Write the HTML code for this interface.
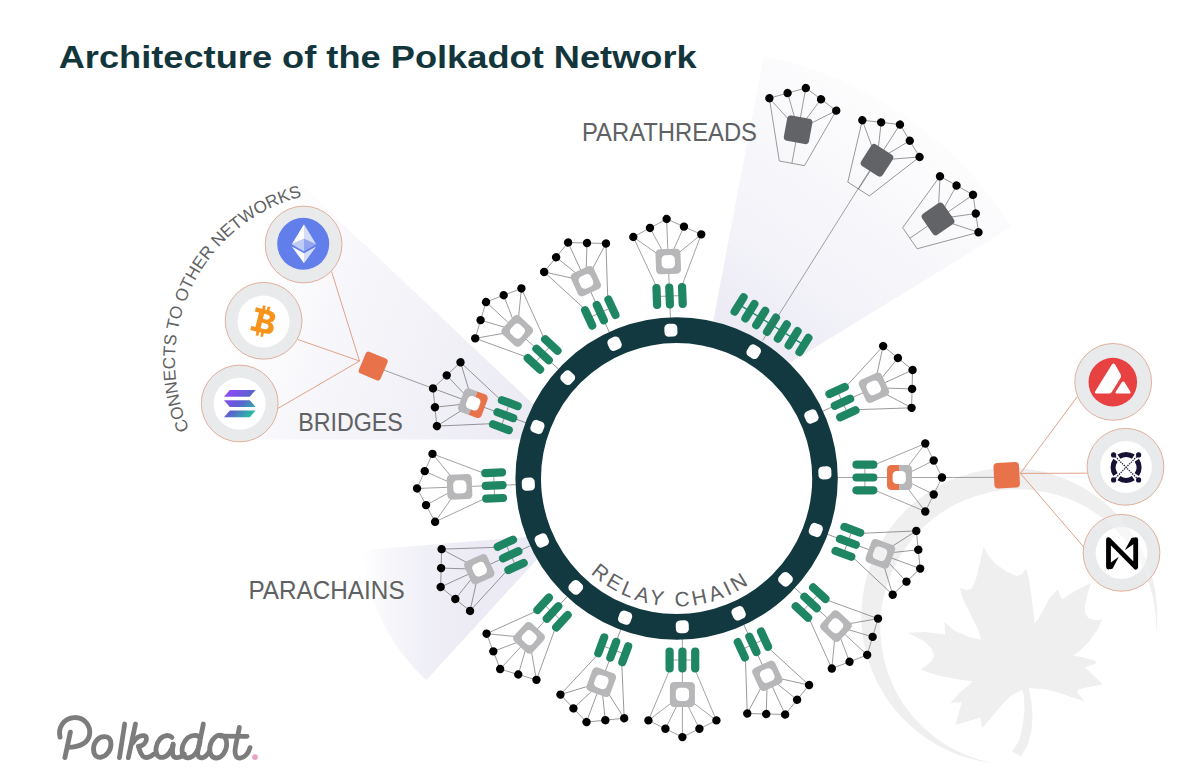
<!DOCTYPE html>
<html lang="en"><head><meta charset="utf-8"><title>Architecture of the Polkadot Network</title>
<style>html,body{margin:0;padding:0;background:#fff}body{width:1200px;height:778px;overflow:hidden;font-family:"Liberation Sans",sans-serif}svg{display:block}text{font-family:"Liberation Sans",sans-serif}</style>
</head><body>
<svg width="1200" height="778" viewBox="0 0 1200 778">
<defs>
<linearGradient id="gB1" gradientUnits="userSpaceOnUse" x1="756.5" y1="331.2" x2="905.5" y2="115.7"><stop offset="0" stop-color="#edecf5"/><stop offset="0.3" stop-color="#f3f3f9"/><stop offset="0.78" stop-color="#fafafc"/><stop offset="1" stop-color="#fdfdfe"/></linearGradient>
<linearGradient id="gB2" gradientUnits="userSpaceOnUse" x1="529.3" y1="424" x2="238" y2="318"><stop offset="0" stop-color="#ecebf4"/><stop offset="0.39" stop-color="#f1f1f7"/><stop offset="0.71" stop-color="#f7f7fb"/><stop offset="1" stop-color="#ffffff"/></linearGradient>
<linearGradient id="gB3" gradientUnits="userSpaceOnUse" x1="480" y1="600" x2="362" y2="600"><stop offset="0" stop-color="#eceaf4"/><stop offset="0.5" stop-color="#f0f0f7"/><stop offset="0.8" stop-color="#f8f8fb"/><stop offset="1" stop-color="#ffffff"/></linearGradient>
<linearGradient id="gSol" gradientUnits="userSpaceOnUse" x1="226" y1="390" x2="254" y2="418"><stop offset="0" stop-color="#9945ff"/><stop offset="0.5" stop-color="#5a62cf"/><stop offset="1" stop-color="#19d694"/></linearGradient>
<path id="tpRelay" d="M590.6,573.3 A128,128 0 0 0 760.5,575.2" fill="none"/>
<path id="tpConnects" d="M189.3,429.3 A170,170 0 0 1 309.7,194.7" fill="none"/>
<g id="wmShape"><path d="M983.5,546.7 L988.6,555.9 L995.2,563.4 L1006.9,571.7 L1017,575.9 L1022,574.3 L1026.1,568.4 L1028.4,575.9 L1030.4,588.5 L1032.6,605.2 L1034.6,623.5 L1038.4,618.5 L1043.8,609.3 L1050.1,597.6 L1058.1,589.3 L1059.8,595.1 L1062.2,599.3 L1073.5,592.1 L1083.5,586.4 L1091.1,583.1 L1088.2,591.8 L1084.9,605.2 L1085.2,613.5 L1088.6,618.2 L1095.2,620.2 L1102.3,619.2 L1097.7,629.4 L1088.6,641.9 L1078.5,651.9 L1073.2,655.6 L1084,657.6 L1095.5,660.7 L1095.9,663.4 L1085,667.2 L1093.6,675.5 L1102.8,684.5 L1088.8,687 L1078.3,689.5 L1077.3,692.7 L1084.4,701 L1072.5,697.5 L1059.1,692.7 L1043.8,688.9 L1028.8,687.9 L1031.3,701.3 L1032.6,716.7 L1031.3,732 L1027.5,745.4 L1021.1,756.5 L1011.8,751.6 L1018.8,741.6 L1022.7,726.3 L1024.6,709 L1023.6,693.7 L1021.7,690.2 L1011.2,695.6 L1001.6,705.2 L992,716.7 L982,728.6 L980.5,717.6 L967.1,721.5 L955.6,724.7 L958.5,713.8 L961.7,702.3 L950.4,702.9 L959.4,692.7 L969,685 L972.5,681.2 L957.5,679.3 L938.3,675.5 L920.7,669.7 L930.7,662 L934.1,656.3 L931.6,648.6 L924,641 L907.5,632.7 L925.1,631.9 L945.1,634.4 L944.8,627.7 L944.3,621.9 L955.1,631.1 L970.2,637.2 L981,639.7 L978.5,630.2 L970.2,613.5 L962.7,598.5 L959.8,588 L966.8,590.1 L971.5,588.8 L976,578.4 L980.2,561.7 Z"/>
<path d="M993,763 A148,148 0 1 1 1156,636 A138,138 0 1 0 993,763 Z"/></g>
</defs>
<g id="beams">
<path d="M694,421.7 L763.71,56.29 A372,372 0 0 1 1011.18,227.33 Z" fill="url(#gB1)"/>
<path d="M570.5,439.4 L194.5,439.4 A376,376 0 0 1 297.31,181.06 Z" fill="url(#gB2)"/>
<path d="M560,534.3 L426.23,680.28 A198,198 0 0 1 362.64,550.18 Z" fill="url(#gB3)"/>
</g>
<use href="#wmShape" fill="#efefef"/>
<g id="unit-lines" fill="none" stroke="#585858" stroke-width="0.55">
<g transform="translate(668.26,261.46) rotate(-2.2)"><polyline points="-34,-25.8 -17,-34.2 0,-42.5 17,-34.2 34,-25.8"/><line x1="-34" y1="-25.8" x2="0" y2="0"/><line x1="-17" y1="-34.2" x2="0" y2="0"/><line x1="0" y1="-42.5" x2="0" y2="0"/><line x1="17" y1="-34.2" x2="0" y2="0"/><line x1="34" y1="-25.8" x2="0" y2="0"/><line x1="-34" y1="-25.8" x2="-12.8" y2="24.6"/><line x1="34" y1="-25.8" x2="12.8" y2="24.6"/><line x1="0" y1="0" x2="0" y2="60"/><line x1="-12.8" y1="34.6" x2="12.8" y2="34.6"/></g>
<g transform="translate(585.84,281.17) rotate(-24.7)"><polyline points="-34,-25.8 -17,-34.2 0,-42.5 17,-34.2 34,-25.8"/><line x1="-34" y1="-25.8" x2="0" y2="0"/><line x1="-17" y1="-34.2" x2="0" y2="0"/><line x1="0" y1="-42.5" x2="0" y2="0"/><line x1="17" y1="-34.2" x2="0" y2="0"/><line x1="34" y1="-25.8" x2="0" y2="0"/><line x1="-34" y1="-25.8" x2="-12.8" y2="24.6"/><line x1="34" y1="-25.8" x2="12.8" y2="24.6"/><line x1="0" y1="0" x2="0" y2="60"/><line x1="-12.8" y1="34.6" x2="12.8" y2="34.6"/></g>
<g transform="translate(517.23,330.93) rotate(-47.2)"><polyline points="-34,-25.8 -17,-34.2 0,-42.5 17,-34.2 34,-25.8"/><line x1="-34" y1="-25.8" x2="0" y2="0"/><line x1="-17" y1="-34.2" x2="0" y2="0"/><line x1="0" y1="-42.5" x2="0" y2="0"/><line x1="17" y1="-34.2" x2="0" y2="0"/><line x1="34" y1="-25.8" x2="0" y2="0"/><line x1="-34" y1="-25.8" x2="-12.8" y2="24.6"/><line x1="34" y1="-25.8" x2="12.8" y2="24.6"/><line x1="0" y1="0" x2="0" y2="60"/><line x1="-12.8" y1="34.6" x2="12.8" y2="34.6"/></g>
<g transform="translate(472.89,403.15) rotate(-69.7)"><polyline points="-34,-25.8 -17,-34.2 0,-42.5 17,-34.2 34,-25.8"/><line x1="-34" y1="-25.8" x2="0" y2="0"/><line x1="-17" y1="-34.2" x2="0" y2="0"/><line x1="0" y1="-42.5" x2="0" y2="0"/><line x1="17" y1="-34.2" x2="0" y2="0"/><line x1="34" y1="-25.8" x2="0" y2="0"/><line x1="-34" y1="-25.8" x2="-12.8" y2="24.6"/><line x1="34" y1="-25.8" x2="12.8" y2="24.6"/><line x1="0" y1="0" x2="0" y2="60"/><line x1="-12.8" y1="34.6" x2="12.8" y2="34.6"/></g>
<g transform="translate(459.56,486.84) rotate(-92.2)"><polyline points="-34,-25.8 -17,-34.2 0,-42.5 17,-34.2 34,-25.8"/><line x1="-34" y1="-25.8" x2="0" y2="0"/><line x1="-17" y1="-34.2" x2="0" y2="0"/><line x1="0" y1="-42.5" x2="0" y2="0"/><line x1="17" y1="-34.2" x2="0" y2="0"/><line x1="34" y1="-25.8" x2="0" y2="0"/><line x1="-34" y1="-25.8" x2="-12.8" y2="24.6"/><line x1="34" y1="-25.8" x2="12.8" y2="24.6"/><line x1="0" y1="0" x2="0" y2="60"/><line x1="-12.8" y1="34.6" x2="12.8" y2="34.6"/></g>
<g transform="translate(479.27,569.26) rotate(-114.7)"><polyline points="-34,-25.8 -17,-34.2 0,-42.5 17,-34.2 34,-25.8"/><line x1="-34" y1="-25.8" x2="0" y2="0"/><line x1="-17" y1="-34.2" x2="0" y2="0"/><line x1="0" y1="-42.5" x2="0" y2="0"/><line x1="17" y1="-34.2" x2="0" y2="0"/><line x1="34" y1="-25.8" x2="0" y2="0"/><line x1="-34" y1="-25.8" x2="-12.8" y2="24.6"/><line x1="34" y1="-25.8" x2="12.8" y2="24.6"/><line x1="0" y1="0" x2="0" y2="60"/><line x1="-12.8" y1="34.6" x2="12.8" y2="34.6"/></g>
<g transform="translate(529.03,637.87) rotate(-137.2)"><polyline points="-34,-25.8 -17,-34.2 0,-42.5 17,-34.2 34,-25.8"/><line x1="-34" y1="-25.8" x2="0" y2="0"/><line x1="-17" y1="-34.2" x2="0" y2="0"/><line x1="0" y1="-42.5" x2="0" y2="0"/><line x1="17" y1="-34.2" x2="0" y2="0"/><line x1="34" y1="-25.8" x2="0" y2="0"/><line x1="-34" y1="-25.8" x2="-12.8" y2="24.6"/><line x1="34" y1="-25.8" x2="12.8" y2="24.6"/><line x1="0" y1="0" x2="0" y2="60"/><line x1="-12.8" y1="34.6" x2="12.8" y2="34.6"/></g>
<g transform="translate(601.25,682.21) rotate(-159.7)"><polyline points="-34,-25.8 -17,-34.2 0,-42.5 17,-34.2 34,-25.8"/><line x1="-34" y1="-25.8" x2="0" y2="0"/><line x1="-17" y1="-34.2" x2="0" y2="0"/><line x1="0" y1="-42.5" x2="0" y2="0"/><line x1="17" y1="-34.2" x2="0" y2="0"/><line x1="34" y1="-25.8" x2="0" y2="0"/><line x1="-34" y1="-25.8" x2="-12.8" y2="24.6"/><line x1="34" y1="-25.8" x2="12.8" y2="24.6"/><line x1="0" y1="0" x2="0" y2="60"/><line x1="-12.8" y1="34.6" x2="12.8" y2="34.6"/></g>
<g transform="translate(682.4,694.6) rotate(180)"><polyline points="-34,-25.8 -17,-34.2 0,-42.5 17,-34.2 34,-25.8"/><line x1="-34" y1="-25.8" x2="0" y2="0"/><line x1="-17" y1="-34.2" x2="0" y2="0"/><line x1="0" y1="-42.5" x2="0" y2="0"/><line x1="17" y1="-34.2" x2="0" y2="0"/><line x1="34" y1="-25.8" x2="0" y2="0"/><line x1="-34" y1="-25.8" x2="-12.8" y2="24.6"/><line x1="34" y1="-25.8" x2="12.8" y2="24.6"/><line x1="0" y1="0" x2="0" y2="60"/><line x1="-12.8" y1="34.6" x2="12.8" y2="34.6"/></g>
<g transform="translate(767.36,675.83) rotate(-204.7)"><polyline points="-34,-25.8 -17,-34.2 0,-42.5 17,-34.2 34,-25.8"/><line x1="-34" y1="-25.8" x2="0" y2="0"/><line x1="-17" y1="-34.2" x2="0" y2="0"/><line x1="0" y1="-42.5" x2="0" y2="0"/><line x1="17" y1="-34.2" x2="0" y2="0"/><line x1="34" y1="-25.8" x2="0" y2="0"/><line x1="-34" y1="-25.8" x2="-12.8" y2="24.6"/><line x1="34" y1="-25.8" x2="12.8" y2="24.6"/><line x1="0" y1="0" x2="0" y2="60"/><line x1="-12.8" y1="34.6" x2="12.8" y2="34.6"/></g>
<g transform="translate(835.97,626.07) rotate(-227.2)"><polyline points="-34,-25.8 -17,-34.2 0,-42.5 17,-34.2 34,-25.8"/><line x1="-34" y1="-25.8" x2="0" y2="0"/><line x1="-17" y1="-34.2" x2="0" y2="0"/><line x1="0" y1="-42.5" x2="0" y2="0"/><line x1="17" y1="-34.2" x2="0" y2="0"/><line x1="34" y1="-25.8" x2="0" y2="0"/><line x1="-34" y1="-25.8" x2="-12.8" y2="24.6"/><line x1="34" y1="-25.8" x2="12.8" y2="24.6"/><line x1="0" y1="0" x2="0" y2="60"/><line x1="-12.8" y1="34.6" x2="12.8" y2="34.6"/></g>
<g transform="translate(880.31,553.85) rotate(-249.7)"><polyline points="-34,-25.8 -17,-34.2 0,-42.5 17,-34.2 34,-25.8"/><line x1="-34" y1="-25.8" x2="0" y2="0"/><line x1="-17" y1="-34.2" x2="0" y2="0"/><line x1="0" y1="-42.5" x2="0" y2="0"/><line x1="17" y1="-34.2" x2="0" y2="0"/><line x1="34" y1="-25.8" x2="0" y2="0"/><line x1="-34" y1="-25.8" x2="-12.8" y2="24.6"/><line x1="34" y1="-25.8" x2="12.8" y2="24.6"/><line x1="0" y1="0" x2="0" y2="60"/><line x1="-12.8" y1="34.6" x2="12.8" y2="34.6"/></g>
<g transform="translate(899.5,477.5) rotate(90)"><polyline points="-34,-25.8 -17,-34.2 0,-42.5 17,-34.2 34,-25.8"/><line x1="-34" y1="-25.8" x2="0" y2="0"/><line x1="-17" y1="-34.2" x2="0" y2="0"/><line x1="0" y1="-42.5" x2="0" y2="0"/><line x1="17" y1="-34.2" x2="0" y2="0"/><line x1="34" y1="-25.8" x2="0" y2="0"/><line x1="-34" y1="-25.8" x2="-12.8" y2="24.6"/><line x1="34" y1="-25.8" x2="12.8" y2="24.6"/><line x1="0" y1="0" x2="0" y2="66"/><line x1="-12.8" y1="34.6" x2="12.8" y2="34.6"/></g>
<g transform="translate(873.93,387.74) rotate(-294.7)"><polyline points="-34,-25.8 -17,-34.2 0,-42.5 17,-34.2 34,-25.8"/><line x1="-34" y1="-25.8" x2="0" y2="0"/><line x1="-17" y1="-34.2" x2="0" y2="0"/><line x1="0" y1="-42.5" x2="0" y2="0"/><line x1="17" y1="-34.2" x2="0" y2="0"/><line x1="34" y1="-25.8" x2="0" y2="0"/><line x1="-34" y1="-25.8" x2="-12.8" y2="24.6"/><line x1="34" y1="-25.8" x2="12.8" y2="24.6"/><line x1="0" y1="0" x2="0" y2="60"/><line x1="-12.8" y1="34.6" x2="12.8" y2="34.6"/></g>
<g transform="translate(798.1,129.8) rotate(10.5)"><polyline points="-34,-25.8 -17,-34.2 0,-42.5 17,-34.2 34,-25.8"/><line x1="-34" y1="-25.8" x2="0" y2="0"/><line x1="-17" y1="-34.2" x2="0" y2="0"/><line x1="0" y1="-42.5" x2="0" y2="0"/><line x1="17" y1="-34.2" x2="0" y2="0"/><line x1="34" y1="-25.8" x2="0" y2="0"/><polyline points="-34,-25.8 -12.8,34.1 12.8,34.1 34,-25.8"/><line x1="0" y1="0" x2="0" y2="34.1"/></g>
<g transform="translate(877,160.3) rotate(32.7)"><polyline points="-34,-25.8 -17,-34.2 0,-42.5 17,-34.2 34,-25.8"/><line x1="-34" y1="-25.8" x2="0" y2="0"/><line x1="-17" y1="-34.2" x2="0" y2="0"/><line x1="0" y1="-42.5" x2="0" y2="0"/><line x1="17" y1="-34.2" x2="0" y2="0"/><line x1="34" y1="-25.8" x2="0" y2="0"/><polyline points="-34,-25.8 -12.8,34.1 12.8,34.1 34,-25.8"/><line x1="0" y1="0" x2="0" y2="34.1"/></g>
<g transform="translate(938,218.9) rotate(55.5)"><polyline points="-34,-25.8 -17,-34.2 0,-42.5 17,-34.2 34,-25.8"/><line x1="-34" y1="-25.8" x2="0" y2="0"/><line x1="-17" y1="-34.2" x2="0" y2="0"/><line x1="0" y1="-42.5" x2="0" y2="0"/><line x1="17" y1="-34.2" x2="0" y2="0"/><line x1="34" y1="-25.8" x2="0" y2="0"/><polyline points="-34,-25.8 -12.8,34.1 12.8,34.1 34,-25.8"/><line x1="0" y1="0" x2="0" y2="34.1"/></g>
<line x1="433" y1="388.4" x2="373.2" y2="366.1"/>
<line x1="942" y1="477.5" x2="1006" y2="477.3"/>
</g>
<circle cx="676.6" cy="478.5" r="148.4" fill="#fff" stroke="#12393f" stroke-width="25.6"/>
<g fill="#fff">
<rect x="-6.5" y="-6.5" width="13" height="13" rx="4.3" transform="translate(676.6,478.5) rotate(-2.2) translate(0,-148.4)"/>
<rect x="-6.5" y="-6.5" width="13" height="13" rx="4.3" transform="translate(676.6,478.5) rotate(-24.7) translate(0,-148.4)"/>
<rect x="-6.5" y="-6.5" width="13" height="13" rx="4.3" transform="translate(676.6,478.5) rotate(-47.2) translate(0,-148.4)"/>
<rect x="-6.5" y="-6.5" width="13" height="13" rx="4.3" transform="translate(676.6,478.5) rotate(-69.7) translate(0,-148.4)"/>
<rect x="-6.5" y="-6.5" width="13" height="13" rx="4.3" transform="translate(676.6,478.5) rotate(-92.2) translate(0,-148.4)"/>
<rect x="-6.5" y="-6.5" width="13" height="13" rx="4.3" transform="translate(676.6,478.5) rotate(-114.7) translate(0,-148.4)"/>
<rect x="-6.5" y="-6.5" width="13" height="13" rx="4.3" transform="translate(676.6,478.5) rotate(-137.2) translate(0,-148.4)"/>
<rect x="-6.5" y="-6.5" width="13" height="13" rx="4.3" transform="translate(676.6,478.5) rotate(-159.7) translate(0,-148.4)"/>
<rect x="-6.5" y="-6.5" width="13" height="13" rx="4.3" transform="translate(676.6,478.5) rotate(-182.2) translate(0,-148.4)"/>
<rect x="-6.5" y="-6.5" width="13" height="13" rx="4.3" transform="translate(676.6,478.5) rotate(-204.7) translate(0,-148.4)"/>
<rect x="-6.5" y="-6.5" width="13" height="13" rx="4.3" transform="translate(676.6,478.5) rotate(-227.2) translate(0,-148.4)"/>
<rect x="-6.5" y="-6.5" width="13" height="13" rx="4.3" transform="translate(676.6,478.5) rotate(-249.7) translate(0,-148.4)"/>
<rect x="-6.5" y="-6.5" width="13" height="13" rx="4.3" transform="translate(676.6,478.5) rotate(-272.2) translate(0,-148.4)"/>
<rect x="-6.5" y="-6.5" width="13" height="13" rx="4.3" transform="translate(676.6,478.5) rotate(-294.7) translate(0,-148.4)"/>
<rect x="-6.5" y="-6.5" width="13" height="13" rx="4.3" transform="translate(676.6,478.5) rotate(31.3) translate(0,-148.4)"/>
</g>
<g transform="translate(676.6,478.5) rotate(32)">
<rect x="-43.35" y="-193.2" width="8.2" height="25" rx="4.1" fill="#1e8662"/>
<rect x="-30.6" y="-193.2" width="8.2" height="25" rx="4.1" fill="#1e8662"/>
<rect x="-17.85" y="-193.2" width="8.2" height="25" rx="4.1" fill="#1e8662"/>
<rect x="-5.1" y="-193.2" width="8.2" height="25" rx="4.1" fill="#1e8662"/>
<rect x="7.65" y="-193.2" width="8.2" height="25" rx="4.1" fill="#1e8662"/>
<rect x="20.4" y="-193.2" width="8.2" height="25" rx="4.1" fill="#1e8662"/>
<rect x="33.15" y="-193.2" width="8.2" height="25" rx="4.1" fill="#1e8662"/>
<line x1="-39" y1="-180.7" x2="37" y2="-180.7" stroke="#1e8662" stroke-width="1.3"/>
</g>
<line x1="762.7" y1="340.5" x2="876" y2="160.3" stroke="#585858" stroke-width="0.55"/>
<g id="unit-shapes">
<g transform="translate(668.26,261.46) rotate(-2.2)"><rect x="-16.9" y="22.1" width="8.2" height="25" rx="4.1" fill="#1e8662"/><rect x="-4.1" y="22.1" width="8.2" height="25" rx="4.1" fill="#1e8662"/><rect x="8.7" y="22.1" width="8.2" height="25" rx="4.1" fill="#1e8662"/><rect x="-12.5" y="-12.5" width="25" height="25" rx="4.2" fill="#b7b7b9"/><rect x="-6.6" y="-6.3" width="13.2" height="13.2" rx="4.2" fill="#fff"/><circle cx="-34" cy="-25.8" r="4.2"/><circle cx="-17" cy="-34.2" r="4.2"/><circle cx="0" cy="-42.5" r="4.2"/><circle cx="17" cy="-34.2" r="4.2"/><circle cx="34" cy="-25.8" r="4.2"/></g>
<g transform="translate(585.84,281.17) rotate(-24.7)"><rect x="-16.9" y="22.1" width="8.2" height="25" rx="4.1" fill="#1e8662"/><rect x="-4.1" y="22.1" width="8.2" height="25" rx="4.1" fill="#1e8662"/><rect x="8.7" y="22.1" width="8.2" height="25" rx="4.1" fill="#1e8662"/><rect x="-12.5" y="-12.5" width="25" height="25" rx="4.2" fill="#b7b7b9"/><rect x="-6.6" y="-6.3" width="13.2" height="13.2" rx="4.2" fill="#fff"/><circle cx="-34" cy="-25.8" r="4.2"/><circle cx="-17" cy="-34.2" r="4.2"/><circle cx="0" cy="-42.5" r="4.2"/><circle cx="17" cy="-34.2" r="4.2"/><circle cx="34" cy="-25.8" r="4.2"/></g>
<g transform="translate(517.23,330.93) rotate(-47.2)"><rect x="-16.9" y="22.1" width="8.2" height="25" rx="4.1" fill="#1e8662"/><rect x="-4.1" y="22.1" width="8.2" height="25" rx="4.1" fill="#1e8662"/><rect x="8.7" y="22.1" width="8.2" height="25" rx="4.1" fill="#1e8662"/><rect x="-12.5" y="-12.5" width="25" height="25" rx="4.2" fill="#b7b7b9"/><rect x="-6.6" y="-6.3" width="13.2" height="13.2" rx="4.2" fill="#fff"/><circle cx="-34" cy="-25.8" r="4.2"/><circle cx="-17" cy="-34.2" r="4.2"/><circle cx="0" cy="-42.5" r="4.2"/><circle cx="17" cy="-34.2" r="4.2"/><circle cx="34" cy="-25.8" r="4.2"/></g>
<g transform="translate(472.89,403.15) rotate(-69.7)"><rect x="-16.9" y="22.1" width="8.2" height="25" rx="4.1" fill="#1e8662"/><rect x="-4.1" y="22.1" width="8.2" height="25" rx="4.1" fill="#1e8662"/><rect x="8.7" y="22.1" width="8.2" height="25" rx="4.1" fill="#1e8662"/><path fill="#e8734b" d="M-12.5,0 V8.3 a4.2,4.2 0 0 0 4.2,4.2 H8.3 a4.2,4.2 0 0 0 4.2,-4.2 V0 Z"/><path fill="#b7b7b9" d="M-12.5,0.3 V-8.3 a4.2,4.2 0 0 1 4.2,-4.2 H8.3 a4.2,4.2 0 0 1 4.2,4.2 V0.3 Z"/><rect x="-6.6" y="-6.3" width="13.2" height="13.2" rx="4.2" fill="#fff"/><circle cx="-34" cy="-25.8" r="4.2"/><circle cx="-17" cy="-34.2" r="4.2"/><circle cx="0" cy="-42.5" r="4.2"/><circle cx="17" cy="-34.2" r="4.2"/><circle cx="34" cy="-25.8" r="4.2"/></g>
<g transform="translate(459.56,486.84) rotate(-92.2)"><rect x="-16.9" y="22.1" width="8.2" height="25" rx="4.1" fill="#1e8662"/><rect x="-4.1" y="22.1" width="8.2" height="25" rx="4.1" fill="#1e8662"/><rect x="8.7" y="22.1" width="8.2" height="25" rx="4.1" fill="#1e8662"/><rect x="-12.5" y="-12.5" width="25" height="25" rx="4.2" fill="#b7b7b9"/><rect x="-6.6" y="-6.3" width="13.2" height="13.2" rx="4.2" fill="#fff"/><circle cx="-34" cy="-25.8" r="4.2"/><circle cx="-17" cy="-34.2" r="4.2"/><circle cx="0" cy="-42.5" r="4.2"/><circle cx="17" cy="-34.2" r="4.2"/><circle cx="34" cy="-25.8" r="4.2"/></g>
<g transform="translate(479.27,569.26) rotate(-114.7)"><rect x="-16.9" y="22.1" width="8.2" height="25" rx="4.1" fill="#1e8662"/><rect x="-4.1" y="22.1" width="8.2" height="25" rx="4.1" fill="#1e8662"/><rect x="8.7" y="22.1" width="8.2" height="25" rx="4.1" fill="#1e8662"/><rect x="-12.5" y="-12.5" width="25" height="25" rx="4.2" fill="#b7b7b9"/><rect x="-6.6" y="-6.3" width="13.2" height="13.2" rx="4.2" fill="#fff"/><circle cx="-34" cy="-25.8" r="4.2"/><circle cx="-17" cy="-34.2" r="4.2"/><circle cx="0" cy="-42.5" r="4.2"/><circle cx="17" cy="-34.2" r="4.2"/><circle cx="34" cy="-25.8" r="4.2"/></g>
<g transform="translate(529.03,637.87) rotate(-137.2)"><rect x="-16.9" y="22.1" width="8.2" height="25" rx="4.1" fill="#1e8662"/><rect x="-4.1" y="22.1" width="8.2" height="25" rx="4.1" fill="#1e8662"/><rect x="8.7" y="22.1" width="8.2" height="25" rx="4.1" fill="#1e8662"/><rect x="-12.5" y="-12.5" width="25" height="25" rx="4.2" fill="#b7b7b9"/><rect x="-6.6" y="-6.3" width="13.2" height="13.2" rx="4.2" fill="#fff"/><circle cx="-34" cy="-25.8" r="4.2"/><circle cx="-17" cy="-34.2" r="4.2"/><circle cx="0" cy="-42.5" r="4.2"/><circle cx="17" cy="-34.2" r="4.2"/><circle cx="34" cy="-25.8" r="4.2"/></g>
<g transform="translate(601.25,682.21) rotate(-159.7)"><rect x="-16.9" y="22.1" width="8.2" height="25" rx="4.1" fill="#1e8662"/><rect x="-4.1" y="22.1" width="8.2" height="25" rx="4.1" fill="#1e8662"/><rect x="8.7" y="22.1" width="8.2" height="25" rx="4.1" fill="#1e8662"/><rect x="-12.5" y="-12.5" width="25" height="25" rx="4.2" fill="#b7b7b9"/><rect x="-6.6" y="-6.3" width="13.2" height="13.2" rx="4.2" fill="#fff"/><circle cx="-34" cy="-25.8" r="4.2"/><circle cx="-17" cy="-34.2" r="4.2"/><circle cx="0" cy="-42.5" r="4.2"/><circle cx="17" cy="-34.2" r="4.2"/><circle cx="34" cy="-25.8" r="4.2"/></g>
<g transform="translate(682.4,694.6) rotate(180)"><rect x="-16.9" y="22.1" width="8.2" height="25" rx="4.1" fill="#1e8662"/><rect x="-4.1" y="22.1" width="8.2" height="25" rx="4.1" fill="#1e8662"/><rect x="8.7" y="22.1" width="8.2" height="25" rx="4.1" fill="#1e8662"/><rect x="-12.5" y="-12.5" width="25" height="25" rx="4.2" fill="#b7b7b9"/><rect x="-6.6" y="-6.3" width="13.2" height="13.2" rx="4.2" fill="#fff"/><circle cx="-34" cy="-25.8" r="4.2"/><circle cx="-17" cy="-34.2" r="4.2"/><circle cx="0" cy="-42.5" r="4.2"/><circle cx="17" cy="-34.2" r="4.2"/><circle cx="34" cy="-25.8" r="4.2"/></g>
<g transform="translate(767.36,675.83) rotate(-204.7)"><rect x="-16.9" y="22.1" width="8.2" height="25" rx="4.1" fill="#1e8662"/><rect x="-4.1" y="22.1" width="8.2" height="25" rx="4.1" fill="#1e8662"/><rect x="8.7" y="22.1" width="8.2" height="25" rx="4.1" fill="#1e8662"/><rect x="-12.5" y="-12.5" width="25" height="25" rx="4.2" fill="#b7b7b9"/><rect x="-6.6" y="-6.3" width="13.2" height="13.2" rx="4.2" fill="#fff"/><circle cx="-34" cy="-25.8" r="4.2"/><circle cx="-17" cy="-34.2" r="4.2"/><circle cx="0" cy="-42.5" r="4.2"/><circle cx="17" cy="-34.2" r="4.2"/><circle cx="34" cy="-25.8" r="4.2"/></g>
<g transform="translate(835.97,626.07) rotate(-227.2)"><rect x="-16.9" y="22.1" width="8.2" height="25" rx="4.1" fill="#1e8662"/><rect x="-4.1" y="22.1" width="8.2" height="25" rx="4.1" fill="#1e8662"/><rect x="8.7" y="22.1" width="8.2" height="25" rx="4.1" fill="#1e8662"/><rect x="-12.5" y="-12.5" width="25" height="25" rx="4.2" fill="#b7b7b9"/><rect x="-6.6" y="-6.3" width="13.2" height="13.2" rx="4.2" fill="#fff"/><circle cx="-34" cy="-25.8" r="4.2"/><circle cx="-17" cy="-34.2" r="4.2"/><circle cx="0" cy="-42.5" r="4.2"/><circle cx="17" cy="-34.2" r="4.2"/><circle cx="34" cy="-25.8" r="4.2"/></g>
<g transform="translate(880.31,553.85) rotate(-249.7)"><rect x="-16.9" y="22.1" width="8.2" height="25" rx="4.1" fill="#1e8662"/><rect x="-4.1" y="22.1" width="8.2" height="25" rx="4.1" fill="#1e8662"/><rect x="8.7" y="22.1" width="8.2" height="25" rx="4.1" fill="#1e8662"/><rect x="-12.5" y="-12.5" width="25" height="25" rx="4.2" fill="#b7b7b9"/><rect x="-6.6" y="-6.3" width="13.2" height="13.2" rx="4.2" fill="#f1f1f1"/><circle cx="-34" cy="-25.8" r="4.2"/><circle cx="-17" cy="-34.2" r="4.2"/><circle cx="0" cy="-42.5" r="4.2"/><circle cx="17" cy="-34.2" r="4.2"/><circle cx="34" cy="-25.8" r="4.2"/></g>
<g transform="translate(899.5,477.5) rotate(90)"><rect x="-16.9" y="22.1" width="8.2" height="25" rx="4.1" fill="#1e8662"/><rect x="-4.1" y="22.1" width="8.2" height="25" rx="4.1" fill="#1e8662"/><rect x="8.7" y="22.1" width="8.2" height="25" rx="4.1" fill="#1e8662"/><path fill="#e8734b" d="M-12.5,0 V8.3 a4.2,4.2 0 0 0 4.2,4.2 H8.3 a4.2,4.2 0 0 0 4.2,-4.2 V0 Z"/><path fill="#b7b7b9" d="M-12.5,0.3 V-8.3 a4.2,4.2 0 0 1 4.2,-4.2 H8.3 a4.2,4.2 0 0 1 4.2,4.2 V0.3 Z"/><rect x="-6.6" y="-6.3" width="13.2" height="13.2" rx="4.2" fill="#fff"/><circle cx="-34" cy="-25.8" r="4.2"/><circle cx="-17" cy="-34.2" r="4.2"/><circle cx="0" cy="-42.5" r="4.2"/><circle cx="17" cy="-34.2" r="4.2"/><circle cx="34" cy="-25.8" r="4.2"/></g>
<g transform="translate(873.93,387.74) rotate(-294.7)"><rect x="-16.9" y="22.1" width="8.2" height="25" rx="4.1" fill="#1e8662"/><rect x="-4.1" y="22.1" width="8.2" height="25" rx="4.1" fill="#1e8662"/><rect x="8.7" y="22.1" width="8.2" height="25" rx="4.1" fill="#1e8662"/><rect x="-12.5" y="-12.5" width="25" height="25" rx="4.2" fill="#b7b7b9"/><rect x="-6.6" y="-6.3" width="13.2" height="13.2" rx="4.2" fill="#fff"/><circle cx="-34" cy="-25.8" r="4.2"/><circle cx="-17" cy="-34.2" r="4.2"/><circle cx="0" cy="-42.5" r="4.2"/><circle cx="17" cy="-34.2" r="4.2"/><circle cx="34" cy="-25.8" r="4.2"/></g>
<g transform="translate(798.1,129.8) rotate(10.5)"><rect x="-12.8" y="-12.8" width="25.6" height="25.6" rx="3.8" fill="#626366"/><circle cx="-34" cy="-25.8" r="4.2"/><circle cx="-17" cy="-34.2" r="4.2"/><circle cx="0" cy="-42.5" r="4.2"/><circle cx="17" cy="-34.2" r="4.2"/><circle cx="34" cy="-25.8" r="4.2"/></g>
<g transform="translate(877,160.3) rotate(32.7)"><rect x="-12.8" y="-12.8" width="25.6" height="25.6" rx="3.8" fill="#626366"/><circle cx="-34" cy="-25.8" r="4.2"/><circle cx="-17" cy="-34.2" r="4.2"/><circle cx="0" cy="-42.5" r="4.2"/><circle cx="17" cy="-34.2" r="4.2"/><circle cx="34" cy="-25.8" r="4.2"/></g>
<g transform="translate(938,218.9) rotate(55.5)"><rect x="-12.8" y="-12.8" width="25.6" height="25.6" rx="3.8" fill="#626366"/><circle cx="-34" cy="-25.8" r="4.2"/><circle cx="-17" cy="-34.2" r="4.2"/><circle cx="0" cy="-42.5" r="4.2"/><circle cx="17" cy="-34.2" r="4.2"/><circle cx="34" cy="-25.8" r="4.2"/></g>
</g>
<g id="bridge-left">
<g fill="none" stroke="#dc8a6c" stroke-width="0.8">
<line x1="359.5" y1="361" x2="331.5" y2="271.4"/><line x1="359.5" y1="361" x2="298" y2="339.6"/><line x1="359.5" y1="361" x2="277.8" y2="408.5"/>
</g>
<circle cx="303.6" cy="244.5" r="38.4" fill="#e9eaec" stroke="#dd9d86" stroke-width="0.8"/>
<circle cx="263.6" cy="320.8" r="38.4" fill="#e9eaec" stroke="#dd9d86" stroke-width="0.8"/>
<circle cx="239.7" cy="403.5" r="38.4" fill="#e9eaec" stroke="#dd9d86" stroke-width="0.8"/>
<rect x="-11.8" y="-11.8" width="23.6" height="23.6" rx="3.2" fill="#e8734b" transform="translate(373.2,366.1) rotate(22.9)"/>
<circle cx="303.2" cy="243.8" r="26" fill="#627eea"/>
<g><polygon points="304,224.2 304,238.8 316.2,244.3" fill="#fff" fill-opacity="0.74"/><polygon points="304,224.2 291.8,244.3 304,238.8" fill="#fff"/><polygon points="304,253.2 304,263.3 316.2,246.4" fill="#fff" fill-opacity="0.74"/><polygon points="304,263.3 304,253.2 291.8,246.4" fill="#fff"/><polygon points="304,251.6 316.2,244.3 304,238.8" fill="#fff" fill-opacity="0.3"/><polygon points="291.8,244.3 304,251.6 304,238.8" fill="#fff" fill-opacity="0.6"/></g>
<circle cx="263.5" cy="321.5" r="26" fill="#fff"/>
<g transform="translate(263,321) rotate(14) scale(1.0)" fill="#f7931a"><path fill-rule="evenodd" d="M-10.2,-11.5 H3.2 C8.6,-11.5 11,-9 11,-5.6 C11,-2.9 9.6,-1.2 7.2,-0.4 C10.4,0.3 12.2,2.5 12.2,5.6 C12.2,9.6 9.3,11.8 3.8,11.8 H-10.2 V7.6 H-5.9 V-7.3 H-10.2 Z M-0.6,-7.2 V-2.2 H2.4 C4.6,-2.2 5.7,-3.1 5.7,-4.7 C5.7,-6.4 4.6,-7.2 2.4,-7.2 Z M-0.6,1.7 V7.5 H3 C5.5,7.5 6.7,6.5 6.7,4.6 C6.7,2.7 5.5,1.7 3,1.7 Z"/><rect x="-3.7" y="-15.3" width="2.7" height="4.6"/><rect x="1.1" y="-15.3" width="2.7" height="4.6"/><rect x="-3.7" y="11" width="2.7" height="4.6"/><rect x="1.1" y="11" width="2.7" height="4.6"/></g>
<circle cx="239.6" cy="403.7" r="26" fill="#fff"/>
<g fill="url(#gSol)"><polygon points="229.8,390 255.6,390 249.8,396.7 224,396.7"/><polygon points="224,400.2 249.8,400.2 255.6,407 229.8,407"/><polygon points="229.8,410.5 255.6,410.5 249.8,417.2 224,417.2"/></g>
</g>
<g id="bridge-right">
<g fill="none" stroke="#dc8a6c" stroke-width="0.8">
<line x1="1020.4" y1="473.4" x2="1076.9" y2="397.2"/><line x1="1020.4" y1="473.4" x2="1087.3" y2="473.2"/><line x1="1020.4" y1="473.4" x2="1084.2" y2="547.6"/>
</g>
<circle cx="1113.2" cy="381.9" r="38.4" fill="#e9eaec" stroke="#dd9d86" stroke-width="0.8"/>
<circle cx="1125.5" cy="466.8" r="38.4" fill="#e9eaec" stroke="#dd9d86" stroke-width="0.8"/>
<circle cx="1121.5" cy="552.8" r="38.4" fill="#e9eaec" stroke="#dd9d86" stroke-width="0.8"/>
<rect x="-12.8" y="-12.8" width="25.6" height="25.6" rx="4" fill="#e8734b" transform="translate(1006.7,475.2) rotate(-3)"/>
<clipPath id="cpR"><circle cx="1113.2" cy="381.9" r="38"/><circle cx="1125.5" cy="466.8" r="38"/><circle cx="1121.5" cy="552.8" r="38"/></clipPath>
<circle cx="1112.8" cy="382.1" r="24.3" fill="#e84142"/>
<g fill="#fff"><path d="M1096.6,393.6 C1095,393.6 1094.5,392.6 1095.3,391.3 L1111.9,364.5 C1112.8,363.1 1114.3,363.1 1115.1,364.5 L1120.6,374.2 C1121.2,375.4 1121.2,376.6 1120.6,377.8 L1112,391.8 C1111.3,393 1110.3,393.6 1109,393.6 Z"/><path d="M1117,393.6 C1115.6,393.6 1115.1,392.6 1115.9,391.4 L1121.8,382.3 C1122.6,381.1 1123.8,381.1 1124.6,382.3 L1130.2,391.4 C1131,392.6 1130.4,393.6 1129,393.6 Z"/></g>
<circle cx="1126" cy="467" r="25.9" fill="#fff"/>
<g fill="none" stroke="#151233"><path d="M1136.8,460.2 A12.9,12.9 0 0 1 1136.8,474.6" stroke-width="5.2"/><path d="M1133.3,478.1 A12.9,12.9 0 0 1 1118.9,478.1" stroke-width="5.2"/><path d="M1115.4,474.6 A12.9,12.9 0 0 1 1115.4,460.2" stroke-width="5.2"/><path d="M1118.9,456.7 A12.9,12.9 0 0 1 1133.3,456.7" stroke-width="5.2"/><path d="M1113.6,454.9 L1138.6,479.9 M1138.6,454.9 L1113.6,479.9" stroke-width="1.3" stroke-dasharray="1.3 1.1"/></g><g fill="#151233"><circle cx="1113.6" cy="454.9" r="2.6"/><circle cx="1113.6" cy="479.9" r="2.6"/><circle cx="1138.6" cy="454.9" r="2.6"/><circle cx="1138.6" cy="479.9" r="2.6"/></g>
<circle cx="1121.5" cy="553" r="25.9" fill="#fff"/>
<g fill="#efefef" opacity="0.5" clip-path="url(#cpR)"><use href="#wmShape"/></g>
<path d="M1108.5,567.1 L1108.5,539.6 L1135.7,567.1 L1135.7,539.6" fill="none" stroke="#000" stroke-width="4.8" stroke-linejoin="round" stroke-linecap="round"/><polygon points="1110.2,562.9 1118.8,556.8 1112.7,568.6 1110.4,569.3 1108.5,567.1" fill="#000"/><polygon points="1134,543.8 1124.8,550.2 1131.5,538.1 1133.8,537.4 1135.7,539.6" fill="#000"/>
</g>
<g id="labels" fill="#606163">
<text x="582" y="140.8" font-size="25" textLength="175" lengthAdjust="spacingAndGlyphs">PARATHREADS</text>
<text x="298.2" y="431.3" font-size="25" textLength="104.6" lengthAdjust="spacingAndGlyphs">BRIDGES</text>
<text x="248.4" y="598.7" font-size="25" textLength="156.2" lengthAdjust="spacingAndGlyphs">PARACHAINS</text>
<text font-size="20.8" letter-spacing="3.4"><textPath href="#tpRelay" startOffset="0">RELAY CHAIN</textPath></text>
<text font-size="17.2"><textPath href="#tpConnects" startOffset="0">CONNECTS TO OTHER NETWORKS</textPath></text>
</g>
<text x="58.7" y="68.3" font-size="31" font-weight="bold" fill="#12363c" textLength="638" lengthAdjust="spacingAndGlyphs">Architecture of the Polkadot Network</text>
<g role="img" aria-label="Polkadot."><title>Polkadot.</title><g fill="none" stroke="#7c7c7c" stroke-linecap="round" stroke-linejoin="round">
<g transform="translate(50,705) scale(0.09166)" stroke-width="53">
<path d="M110,350 C85,250 150,140 265,137 C380,134 445,230 432,320 C420,410 330,462 195,462"/>
<path d="M222,297 L163,573"/>
<path d="M600,345 C520,340 470,420 475,490 C480,560 520,575 555,570 C620,560 668,490 665,420 C662,370 640,347 600,345 Z"/>
</g>
<g transform="translate(120,715) scale(0.066667)" stroke-width="72">
<path d="M70,135 L-8,640"/>
<path d="M232,135 L125,640"/>
<path d="M190,420 C230,350 300,300 360,310 C410,320 405,390 365,430 C335,458 300,468 275,472 C290,510 300,570 340,615 C380,650 440,640 500,590"/>
<path d="M780,335 C740,295 660,295 600,360 C540,430 520,540 560,605 C600,660 690,640 740,570 C775,520 795,470 797,437"/>
<path d="M797,437 C795,480 780,540 790,590 C800,640 850,650 900,630 C930,617 950,600 965,585"/>
</g>
<g transform="translate(180,715) scale(0.066667)" stroke-width="72">
<path d="M305,345 C270,295 190,290 120,340 C50,395 15,500 35,575 C55,650 130,660 190,620 C245,580 285,500 300,400"/>
<path d="M350,135 C330,250 275,480 265,560 C260,620 290,650 340,640 C385,630 415,590 440,545"/>
<path d="M620,305 C540,290 460,380 448,480 C436,580 480,650 550,645 C630,640 700,540 700,440 C700,360 670,312 620,305"/>
<path d="M610,318 L1005,320"/>
<path d="M890,185 C875,280 825,480 825,545 C825,620 860,655 910,645 C980,630 1030,560 1050,490"/>
</g>
</g>
<circle cx="255" cy="757.1" r="2.9" fill="#e6a4c6"/></g>
</svg>
</body></html>
